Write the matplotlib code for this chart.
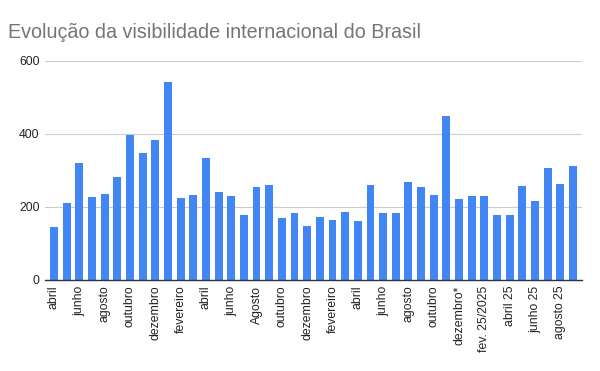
import matplotlib
matplotlib.use("Agg")
import matplotlib.pyplot as plt

months = ["abril", "maio", "junho", "julho", "agosto", "setembro", "outubro", "novembro",
          "dezembro", "janeiro", "fevereiro", "março", "abril", "maio", "junho", "julho",
          "Agosto", "setembro", "outubro", "novembro", "dezembro", "janeiro", "fevereiro",
          "março", "abril", "maio", "junho", "julho", "agosto", "setembro", "outubro",
          "novembro", "dezembro*", "janeiro 25", "fev. 25/2025", "março 25", "abril 25",
          "maio 25", "junho 25", "julho 25", "agosto 25", "setembro 25"]
values = [144, 210, 320, 227, 236, 282, 397, 347, 384, 542,
          225, 233, 333, 241, 230, 178, 255, 260, 170, 184,
          148, 173, 164, 186, 162, 260, 184, 184, 268, 255,
          233, 449, 222, 230, 230, 178, 178, 258, 216, 307,
          263, 312]
yticks = [0, 200, 400, 600]

plt.rcParams['font.family'] = ['Liberation Sans', 'DejaVu Sans']
fig = plt.figure(figsize=(6, 3.71), dpi=100)
ax = fig.add_axes([0.075, 0.2453, 0.895, 0.5903])

x = list(range(len(values)))
ax.bar(x, values, width=0.63, color="#4285F4", zorder=3)
ax.set_xlim(-0.7, len(values) - 0.3)
ax.set_ylim(0, 600)
ax.set_yticks(yticks)
ax.set_yticklabels([str(t) for t in yticks], fontsize=8.8, color="#222222")
ax.set_xticks(x[::2])
ax.set_xticklabels(months[::2], rotation=90, fontsize=8.8, color="#222222")
ax.tick_params(axis='both', length=0, pad=4)
ax.grid(axis='y', color="#cccccc", linewidth=0.8, zorder=0)
for s in ['top', 'right', 'left']:
    ax.spines[s].set_visible(False)
ax.spines['bottom'].set_color("#333333")
ax.spines['bottom'].set_linewidth(1)
ax.spines['bottom'].set_zorder(4)

fig.text(0.013, 0.898, "Evolução da visibilidade internacional do Brasil",
         fontsize=14.2, color="#757575", ha='left', va='baseline')

fig.savefig("out.png", dpi=100)
